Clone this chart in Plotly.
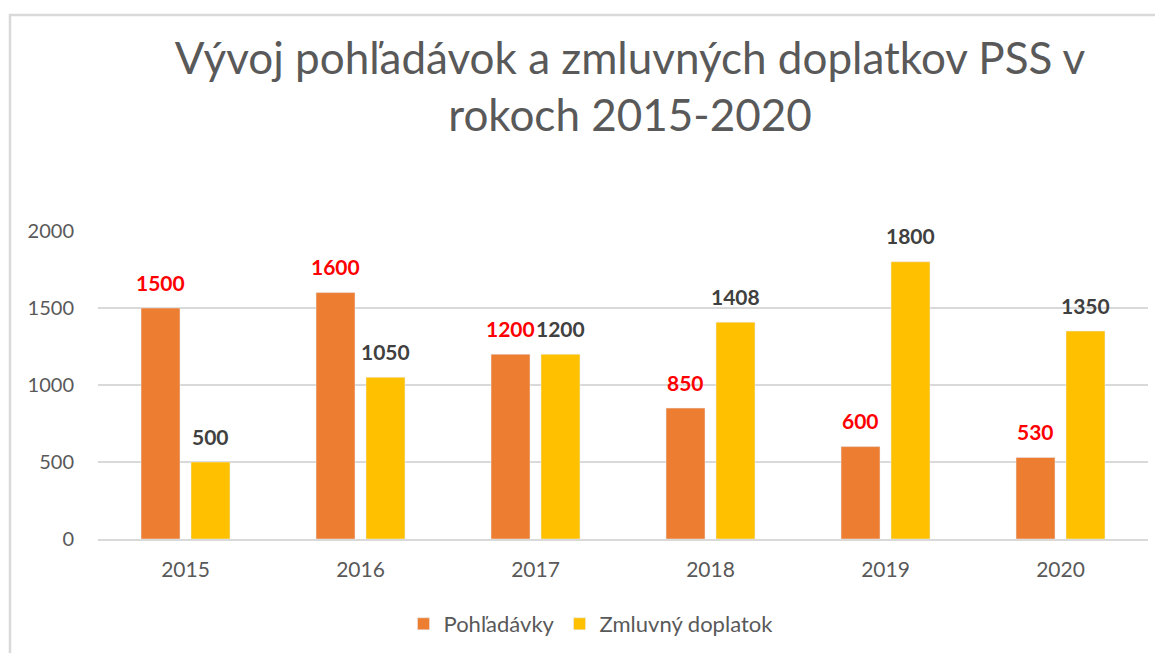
import plotly.graph_objects as go

years = ["2015", "2016", "2017", "2018", "2019", "2020"]
pohladavky = [1500, 1600, 1200, 850, 600, 530]
doplatok = [500, 1050, 1200, 1408, 1800, 1350]
series_names = ["Pohľadávky", "Zmluvný doplatok"]
title_text = "Vývoj pohľadávok a zmluvných doplatkov PSS v<br>rokoch 2015-2020"

FONT = "Lato"
BARGAP, GROUPGAP = 0.429, 0.22
xpos = list(range(len(years)))
slot = (1 - BARGAP) / 2
off = slot / 2

# page body has an 8px margin; figure is sized to fit the window
W, H = 1155, 645
L, T = 90, 223
PW, PH = 1050, 308

fig = go.Figure()
fig.add_trace(go.Bar(x=xpos, y=pohladavky, name=series_names[0],
                     marker=dict(color="#ED7D31")))
fig.add_trace(go.Bar(x=xpos, y=doplatok, name=series_names[1],
                     marker=dict(color="#FFC000")))

# data labels
for i, v in enumerate(pohladavky):
    fig.add_annotation(x=xpos[i] - off, y=v, text=str(v), showarrow=False,
                       yshift=26, yanchor="middle",
                       font=dict(family=FONT, size=21, color="#FF0000", weight="bold"))
for i, v in enumerate(doplatok):
    fig.add_annotation(x=xpos[i] + off, y=v, text=str(v), showarrow=False,
                       yshift=26, yanchor="middle",
                       font=dict(family=FONT, size=21, color="#404040", weight="bold"))

fig.update_layout(
    width=W, height=H,
    margin=dict(l=L, r=W - L - PW, t=T, b=H - T - PH, autoexpand=False),
    paper_bgcolor="white", plot_bgcolor="white",
    barmode="group", bargap=BARGAP, bargroupgap=GROUPGAP,
    font=dict(family=FONT, color="#595959", size=20),
    title=dict(text=title_text, x=622 / W, xanchor="center",
               y=1 - 66 / H, yanchor="top",
               font=dict(family=FONT, size=44, color="#595959")),
    xaxis=dict(range=[-0.5, len(years) - 0.5], tickvals=xpos, ticktext=years,
               showgrid=False, showline=True, linecolor="#D9D9D9", linewidth=1.5,
               ticks="", automargin=False, ticklabelstandoff=11,
               tickfont=dict(size=21, color="#595959")),
    yaxis=dict(range=[0, 2000], dtick=500, showgrid=True, gridcolor="#D9D9D9",
               gridwidth=1.5, zeroline=False, showline=False, ticks="",
               ticklabelstandoff=23, automargin=False,
               tickfont=dict(size=20, color="#595959")),
    legend=dict(orientation="h", x=(591 - 98) / PW, xanchor="center",
                y=(539 - 624) / PH, yanchor="middle",
                font=dict(size=22, color="#595959"), itemwidth=30),
    showlegend=True,
)

# chart-area border (right and bottom edges lie outside the visible page)
fig.add_shape(type="rect", xref="paper", yref="paper",
              x0=(10 - 98) / PW, x1=(1185 - 98) / PW,
              y0=(539 - 700) / PH, y1=(539 - 15) / PH,
              line=dict(color="#D9D9D9", width=2.5), fillcolor="rgba(0,0,0,0)",
              layer="below")

fig.write_html("out.html")
